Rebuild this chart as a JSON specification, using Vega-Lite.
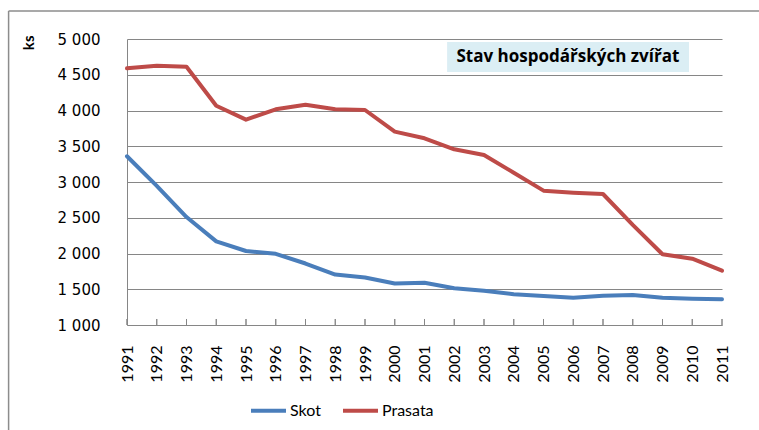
{
  "$schema": "https://vega.github.io/schema/vega-lite/v6.json",
  "width": 595,
  "height": 286,
  "autosize": {"type": "none"},
  "padding": {"left": 127, "top": 39, "right": 37, "bottom": 105},
  "background": "white",
  "config": {"view": {"stroke": null}, "font": "Lato", "axis": {"labelOverlap": false}},
  "data": {"values": [
    {"year": 1991, "series": "Skot", "value": 3360},
    {"year": 1992, "series": "Skot", "value": 2945},
    {"year": 1993, "series": "Skot", "value": 2510},
    {"year": 1994, "series": "Skot", "value": 2170},
    {"year": 1995, "series": "Skot", "value": 2035},
    {"year": 1996, "series": "Skot", "value": 1995},
    {"year": 1997, "series": "Skot", "value": 1860},
    {"year": 1998, "series": "Skot", "value": 1705},
    {"year": 1999, "series": "Skot", "value": 1665},
    {"year": 2000, "series": "Skot", "value": 1580},
    {"year": 2001, "series": "Skot", "value": 1590},
    {"year": 2002, "series": "Skot", "value": 1515},
    {"year": 2003, "series": "Skot", "value": 1478},
    {"year": 2004, "series": "Skot", "value": 1430},
    {"year": 2005, "series": "Skot", "value": 1405},
    {"year": 2006, "series": "Skot", "value": 1380},
    {"year": 2007, "series": "Skot", "value": 1408},
    {"year": 2008, "series": "Skot", "value": 1418},
    {"year": 2009, "series": "Skot", "value": 1380},
    {"year": 2010, "series": "Skot", "value": 1368},
    {"year": 2011, "series": "Skot", "value": 1360},
    {"year": 1991, "series": "Prasata", "value": 4590},
    {"year": 1992, "series": "Prasata", "value": 4625},
    {"year": 1993, "series": "Prasata", "value": 4613},
    {"year": 1994, "series": "Prasata", "value": 4067},
    {"year": 1995, "series": "Prasata", "value": 3872},
    {"year": 1996, "series": "Prasata", "value": 4017},
    {"year": 1997, "series": "Prasata", "value": 4080},
    {"year": 1998, "series": "Prasata", "value": 4017},
    {"year": 1999, "series": "Prasata", "value": 4007},
    {"year": 2000, "series": "Prasata", "value": 3704},
    {"year": 2001, "series": "Prasata", "value": 3611},
    {"year": 2002, "series": "Prasata", "value": 3457},
    {"year": 2003, "series": "Prasata", "value": 3378},
    {"year": 2004, "series": "Prasata", "value": 3130},
    {"year": 2005, "series": "Prasata", "value": 2879},
    {"year": 2006, "series": "Prasata", "value": 2851},
    {"year": 2007, "series": "Prasata", "value": 2832},
    {"year": 2008, "series": "Prasata", "value": 2400},
    {"year": 2009, "series": "Prasata", "value": 1990},
    {"year": 2010, "series": "Prasata", "value": 1928},
    {"year": 2011, "series": "Prasata", "value": 1760}
  ]},
  "layer": [
    {
      "mark": {"type": "line", "strokeWidth": 4, "strokeJoin": "round", "strokeCap": "round"},
      "encoding": {
        "x": {
          "field": "year", "type": "quantitative",
          "scale": {"domain": [1991, 2011], "nice": false, "zero": false},
          "axis": {
            "title": null,
            "values": [1991,1992,1993,1994,1995,1996,1997,1998,1999,2000,2001,2002,2003,2004,2005,2006,2007,2008,2009,2010,2011],
            "tickCount": 100,
            "format": "d",
            "labelAngle": -90,
            "labelAlign": "right",
            "labelBaseline": "middle",
            "labelFont": "Lato",
            "labelFontSize": 16,
            "labelColor": "#000000",
            "labelPadding": 20,
            "labelFlush": false,
            "labelOverlap": false,
            "labelBound": false,
            "ticks": false,
            "grid": false,
            "domainColor": "#868686",
            "domainWidth": 1
          }
        },
        "y": {
          "field": "value", "type": "quantitative",
          "scale": {"domain": [1000, 5000], "nice": false, "zero": false},
          "axis": {
            "title": "ks",
            "titleFont": "Lato",
            "titleFontSize": 15,
            "titleFontWeight": "bold",
            "titleColor": "#000000",
            "titleAngle": -90,
            "titleAlign": "right",
            "titleBaseline": "bottom",
            "titleX": -91,
            "titleY": -4,
            "values": [1000,1500,2000,2500,3000,3500,4000,4500,5000],
            "tickCount": 100,
            "labelExpr": "replace(format(datum.value, ','), ',', ' ')",
            "labelFont": "DejaVu Sans",
            "labelFontSize": 15,
            "labelColor": "#000000",
            "labelPadding": 27,
            "labelFlush": false,
            "labelOverlap": false,
            "ticks": false,
            "grid": true,
            "gridColor": "#868686",
            "gridWidth": 1,
            "domainColor": "#868686",
            "domainWidth": 1
          }
        },
        "color": {
          "field": "series", "type": "nominal",
          "scale": {"domain": ["Skot", "Prasata"], "range": ["#4A7EBB", "#BE4B48"]},
          "legend": {
            "title": null,
            "orient": "none",
            "direction": "horizontal",
            "legendX": 122,
            "legendY": 352,
            "symbolType": "stroke",
            "symbolSize": 1225,
            "symbolStrokeWidth": 4,
            "labelFont": "Lato",
            "labelFontSize": 16,
            "labelColor": "#000000",
            "labelOffset": 2,
            "columnPadding": 14
          }
        }
      }
    },
    {
      "mark": {"type": "rule", "color": "#868686", "strokeWidth": 1},
      "encoding": {
        "x": {"field": "year", "type": "quantitative"},
        "y": {"datum": 1000, "type": "quantitative"},
        "y2": {"datum": 1084}
      }
    },
    {
      "data": {"values": [{}]},
      "mark": {"type": "rect", "fill": "#DBEEF4", "clip": false},
      "encoding": {
        "x": {"datum": 2001.76, "type": "quantitative"},
        "x2": {"datum": 2009.89},
        "y": {"datum": 4958, "type": "quantitative"},
        "y2": {"datum": 4538}
      }
    },
    {
      "data": {"values": [{"label": "Stav hospodářských zvířat"}]},
      "mark": {"type": "text", "font": "Open Sans", "fontSize": 17, "fontWeight": "bold", "color": "#000000", "align": "center", "baseline": "middle"},
      "encoding": {
        "x": {"datum": 2005.82, "type": "quantitative"},
        "y": {"datum": 4748, "type": "quantitative"},
        "text": {"field": "label"}
      }
    },
    {
      "data": {"values": [{}]},
      "mark": {"type": "rule", "stroke": "#8C8C8C", "strokeWidth": 1.5, "clip": false},
      "encoding": {
        "x": {"datum": 1987.02, "type": "quantitative"},
        "y": {"datum": 5391.6, "type": "quantitative"},
        "y2": {"datum": -1000}
      }
    },
    {
      "data": {"values": [{}]},
      "mark": {"type": "rule", "stroke": "#8C8C8C", "strokeWidth": 1.5, "clip": false},
      "encoding": {
        "x": {"datum": 1987.02, "type": "quantitative"},
        "x2": {"datum": 2020},
        "y": {"datum": 5391.6, "type": "quantitative"}
      }
    }
  ]
}
